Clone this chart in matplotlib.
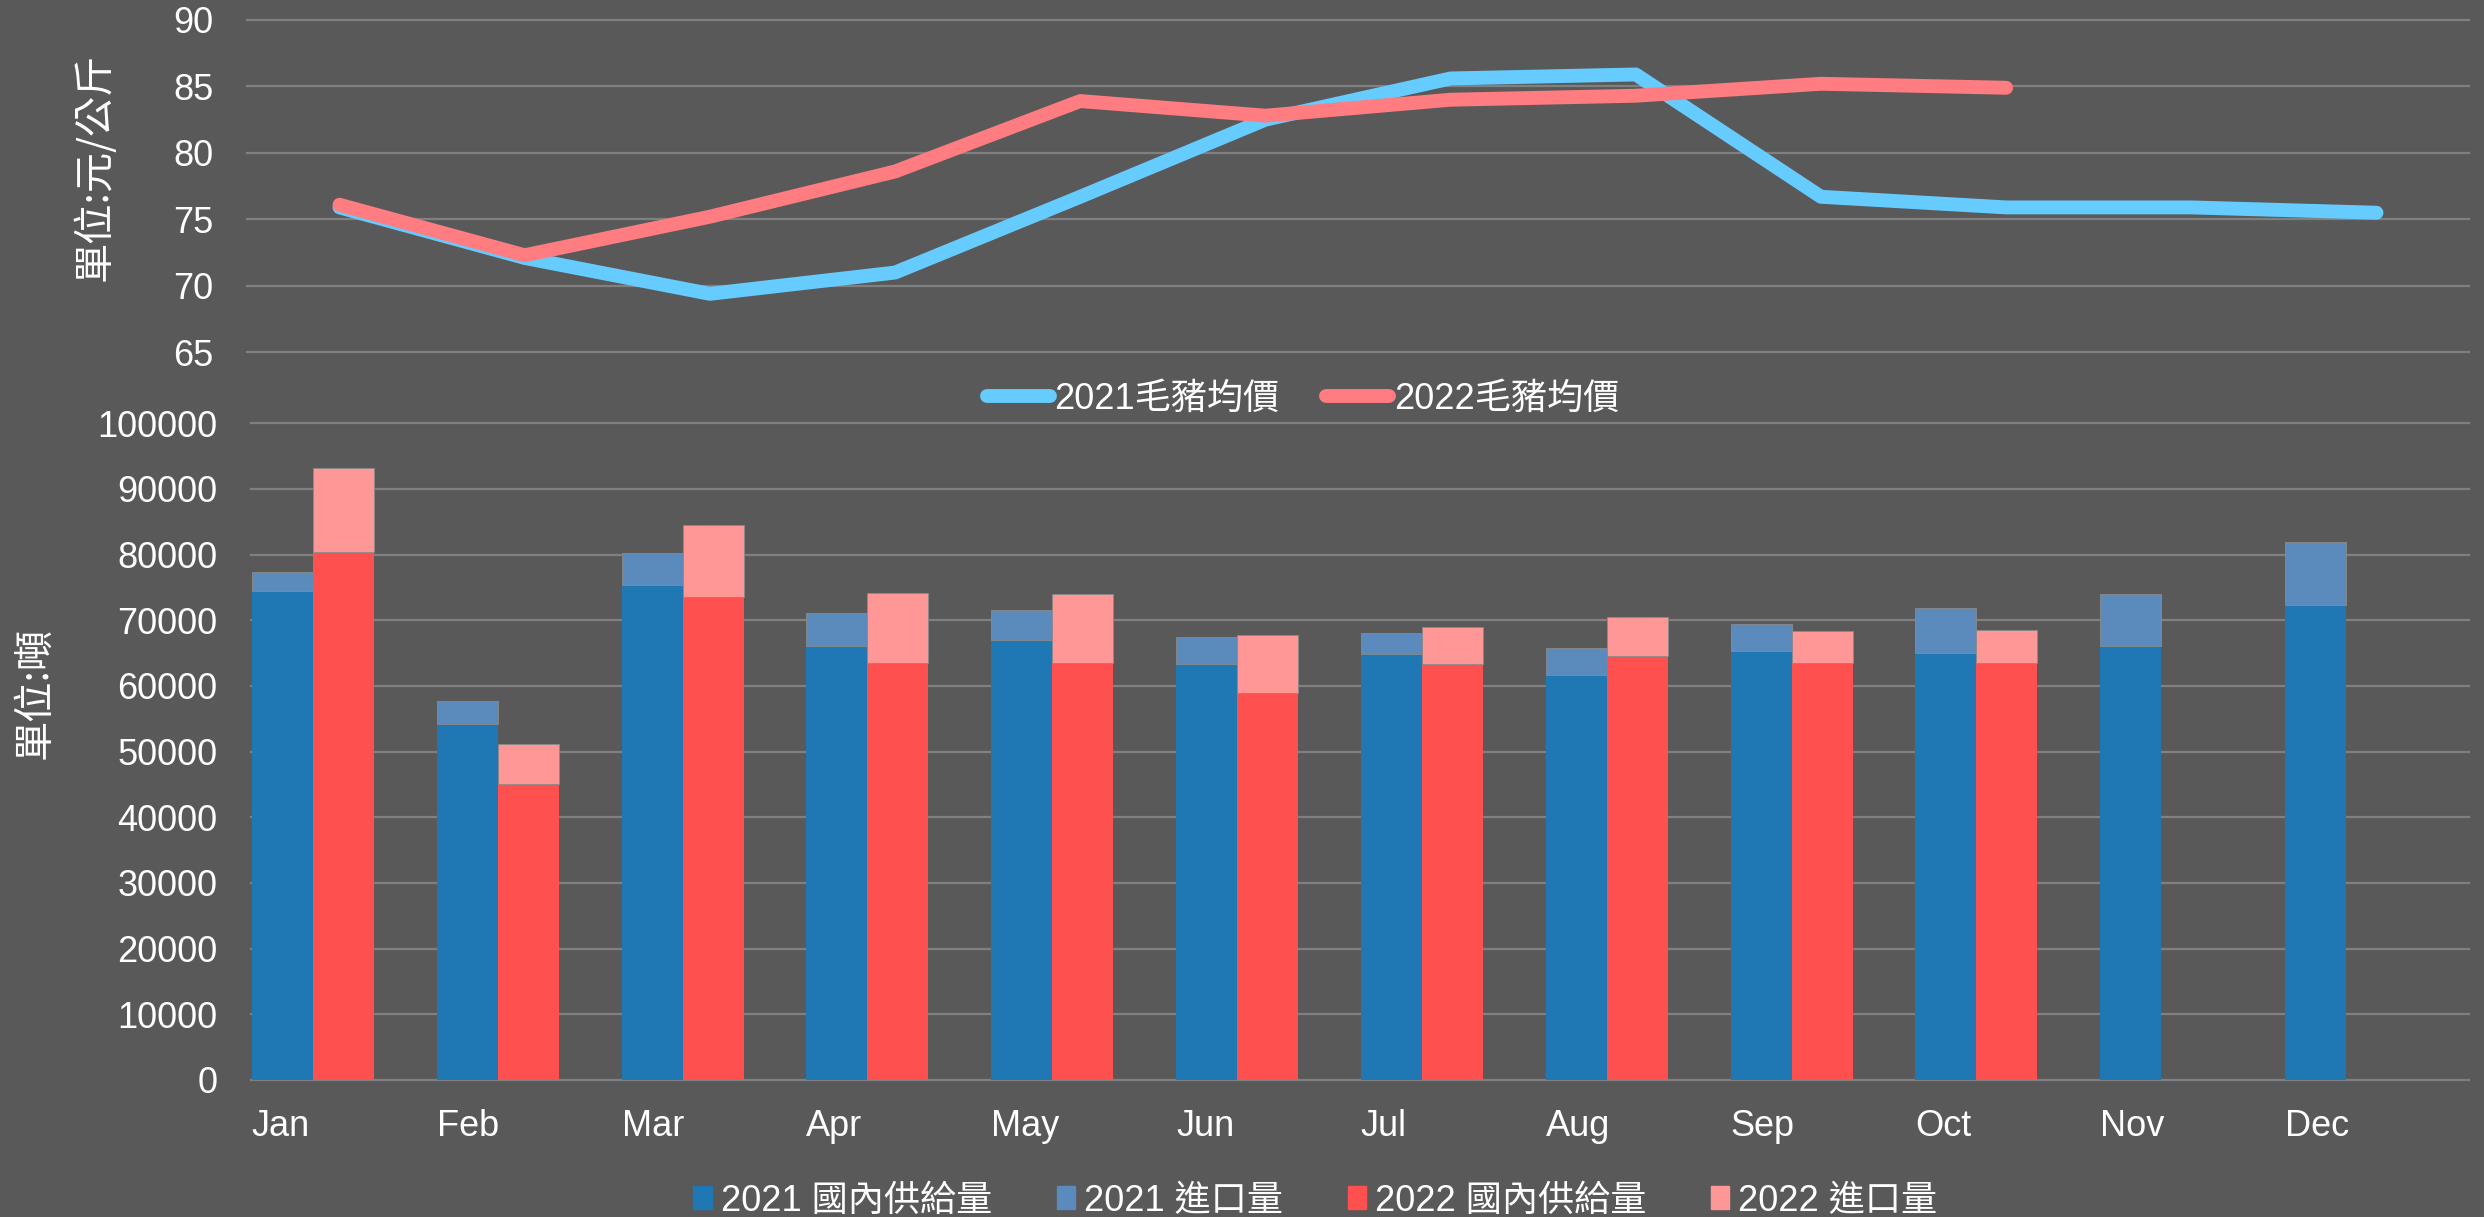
import matplotlib
matplotlib.use('Agg')
import numpy as np
import matplotlib.pyplot as plt
from matplotlib.lines import Line2D
from matplotlib.patches import Patch

months = ['Jan', 'Feb', 'Mar', 'Apr', 'May', 'Jun', 'Jul', 'Aug', 'Sep', 'Oct', 'Nov', 'Dec']

price_2021 = [75.9, 72.1, 69.4, 71.0, 76.7, 82.5, 85.6, 85.9, 76.7, 75.9, 75.9, 75.5]
price_2022 = [76.1, 72.3, 75.2, 78.6, 83.9, 82.8, 84.0, 84.3, 85.2, 84.9]

domestic_2021 = [74480, 54190, 75310, 66150, 67020, 63320, 64890, 61650, 65340, 65090, 66100, 72350]
import_2021 = [2840, 3540, 4950, 4930, 4560, 4200, 3240, 4100, 4160, 6750, 7920, 9550]
domestic_2022 = [80460, 45010, 73550, 63520, 63520, 58900, 63370, 64630, 63520, 63570]
import_2022 = [12780, 6180, 10930, 10610, 10450, 8830, 5670, 5840, 4870, 4920]

price_ticks = [65, 70, 75, 80, 85, 90]
volume_ticks = list(range(0, 100001, 10000))

BG = '#595959'
GRID = '#808080'
C21_LINE = '#66CCFF'
C22_LINE = '#FF7C80'
C21_DOM = '#1F77B4'
C21_IMP = '#5B8BBD'
C22_DOM = '#FF5050'
C22_IMP = '#FF9797'

plt.rcParams['font.family'] = ['Liberation Sans', 'Noto Sans CJK TC', 'DejaVu Sans']

fig = plt.figure(figsize=(24.84, 12.17), dpi=100, facecolor=BG)

# ---- top: price lines ----
ax1 = fig.add_axes([0.0994, 0.7105, 0.8946, 0.2731])
ax1.set_facecolor(BG)
x_all = np.arange(len(months))
ax1.plot(x_all, price_2021, color=C21_LINE, lw=10, solid_capstyle='round', solid_joinstyle='round', zorder=3)
ax1.plot(x_all[:len(price_2022)], price_2022, color=C22_LINE, lw=10, solid_capstyle='round', solid_joinstyle='round', zorder=4)
ax1.set_xlim(-0.5, 11.5)
ax1.set_ylim(65, 90)
ax1.set_yticks(price_ticks)
ax1.set_yticklabels([str(t) for t in price_ticks])
ax1.set_xticks([])
ax1.grid(axis='y', color=GRID, lw=1.6)
ax1.set_axisbelow(True)
for s in ax1.spines.values():
    s.set_visible(False)
ax1.tick_params(axis='y', length=0, pad=24, labelsize=26, labelcolor='white')
for gl in ax1.get_ygridlines():
    gl.set_clip_on(False)

# ---- bottom: stacked bars ----
ax2 = fig.add_axes([0.1010, 0.1126, 0.8930, 0.5396])
ax2.set_facecolor(BG)
w = 0.33
x21 = x_all - w
x22 = x_all[:len(domestic_2022)].astype(float)
ec = dict(edgecolor='#8a8a8a', linewidth=0.6)
ax2.bar(x21, domestic_2021, width=w, color=C21_DOM, zorder=3, edgecolor=C21_DOM, linewidth=0)
ax2.bar(x21, import_2021, width=w, bottom=domestic_2021, color=C21_IMP, zorder=3, **ec)
ax2.bar(x22, domestic_2022, width=w, color=C22_DOM, zorder=3, edgecolor=C22_DOM, linewidth=0)
ax2.bar(x22, import_2022, width=w, bottom=domestic_2022, color=C22_IMP, zorder=3, **ec)
ax2.set_xlim(-0.5, 11.5)
ax2.set_ylim(0, 100000)
ax2.set_yticks(volume_ticks)
ax2.set_yticklabels([str(t) for t in volume_ticks])
ax2.set_xticks(x_all - 0.5 + 0.005)
ax2.set_xticklabels(months)
for lab in ax2.get_xticklabels():
    lab.set_horizontalalignment('left')
ax2.grid(axis='y', color=GRID, lw=1.6)
ax2.set_axisbelow(True)
for s in ax2.spines.values():
    s.set_visible(False)
ax2.tick_params(axis='y', length=0, pad=24, labelsize=26, labelcolor='white')
ax2.tick_params(axis='x', length=0, pad=21, labelsize=26, labelcolor='white')
for gl in ax2.get_ygridlines():
    gl.set_clip_on(False)

# ---- axis titles ----
fig.text(0.038, 0.863, '單位:元/公斤', rotation=90, ha='center', va='center',
         color='white', fontsize=29, family=['Noto Sans CJK TC', 'DejaVu Sans'])
fig.text(0.0141, 0.4306, '單位:噸', rotation=90, ha='center', va='center',
         color='white', fontsize=29, family=['Noto Sans CJK TC', 'DejaVu Sans'])

# ---- legends ----
line_handles = [Line2D([0], [0], color=C21_LINE, lw=10, solid_capstyle='round'),
                Line2D([0], [0], color=C22_LINE, lw=10, solid_capstyle='round')]
leg1 = fig.legend(line_handles, ['2021毛豬均價', '2022毛豬均價'], loc='center',
                  bbox_to_anchor=(0.5245, 0.672), ncol=2, frameon=False,
                  fontsize=26, handlelength=1.75, handletextpad=0.12, columnspacing=1.3,
                  labelcolor='white')

bar_handles = [Patch(color=C21_DOM), Patch(color=C21_IMP), Patch(color=C22_DOM), Patch(color=C22_IMP)]
leg2 = fig.legend(bar_handles, ['2021 國內供給量', '2021 進口量', '2022 國內供給量', '2022 進口量'],
                  loc='center', bbox_to_anchor=(0.5296, 0.013), ncol=4, frameon=False,
                  fontsize=26, handlelength=0.5, handleheight=0.6, handletextpad=0.25,
                  columnspacing=1.8, labelcolor='white')

fig.savefig('out.png', dpi=100, facecolor=BG)
